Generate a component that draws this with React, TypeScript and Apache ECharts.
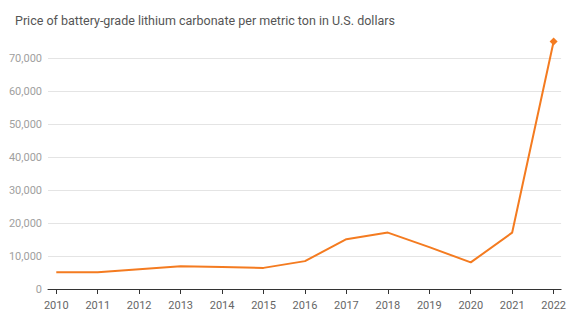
import React, { useEffect, useRef } from "react";
import * as echarts from "echarts";

const years = [2010, 2011, 2012, 2013, 2014, 2015, 2016, 2017, 2018, 2019, 2020, 2021, 2022];
const prices = [5100, 5100, 6000, 6900, 6700, 6400, 8450, 15100, 17100, 12700, 8050, 17100, 75000];
const yTicks = [0, 10000, 20000, 30000, 40000, 50000, 60000, 70000];
const title = "Price of battery-grade lithium carbonate per metric ton in U.S. dollars";

export default function App() {
  const ref = useRef<HTMLDivElement>(null);
  useEffect(() => {
    document.body.style.margin = "0";
    const chart = echarts.init(ref.current!, null, { renderer: "svg" });
    const data = years.map((y, i) => {
      const p: any = { value: [y, prices[i]] };
      if (i === years.length - 1) {
        p.symbol = "diamond";
        p.symbolSize = 8;
      }
      return p;
    });
    chart.setOption({
      animation: false,
      backgroundColor: "#fff",
      textStyle: { fontFamily: "Roboto" },
      title: {
        text: title,
        left: 10,
        top: 9,
        textStyle: { fontFamily: "Roboto", fontSize: 12.5, fontWeight: "normal", color: "#555" },
      },
      grid: { left: 48, right: 3, top: 58, bottom: 31 },
      xAxis: {
        type: "value",
        min: 2009.8,
        max: 2022.18,
        splitLine: { show: false },
        axisLine: { show: true, lineStyle: { color: "#333", width: 1 } },
        axisTick: { show: true, customValues: years, length: 5, lineStyle: { color: "#333" } },
        axisLabel: {
          customValues: years,
          color: "#666",
          fontSize: 11,
          fontFamily: "Roboto",
          margin: 11,
          formatter: (v: number) => String(v),
        },
      },
      yAxis: {
        type: "value",
        min: 0,
        max: 70000,
        interval: 10000,
        axisLine: { show: false },
        axisTick: { show: false },
        splitLine: { lineStyle: { color: "#e4e4e4", width: 1 } },
        axisLabel: {
          customValues: yTicks,
          color: "#a0a0a0",
          fontSize: 11,
          fontFamily: "Roboto",
          margin: 6,
          formatter: (v: number) => v.toLocaleString("en-US"),
        },
      },
      series: [
        {
          type: "line",
          data,
          clip: false,
          symbol: "none",
          showAllSymbol: true,
          lineStyle: { color: "#f47b20", width: 2 },
          itemStyle: { color: "#f47b20" },
        },
      ],
    });
    return () => chart.dispose();
  }, []);
  return <div ref={ref} style={{ position: "absolute", left: 0, top: 0, width: 569, height: 320 }} />;
}
